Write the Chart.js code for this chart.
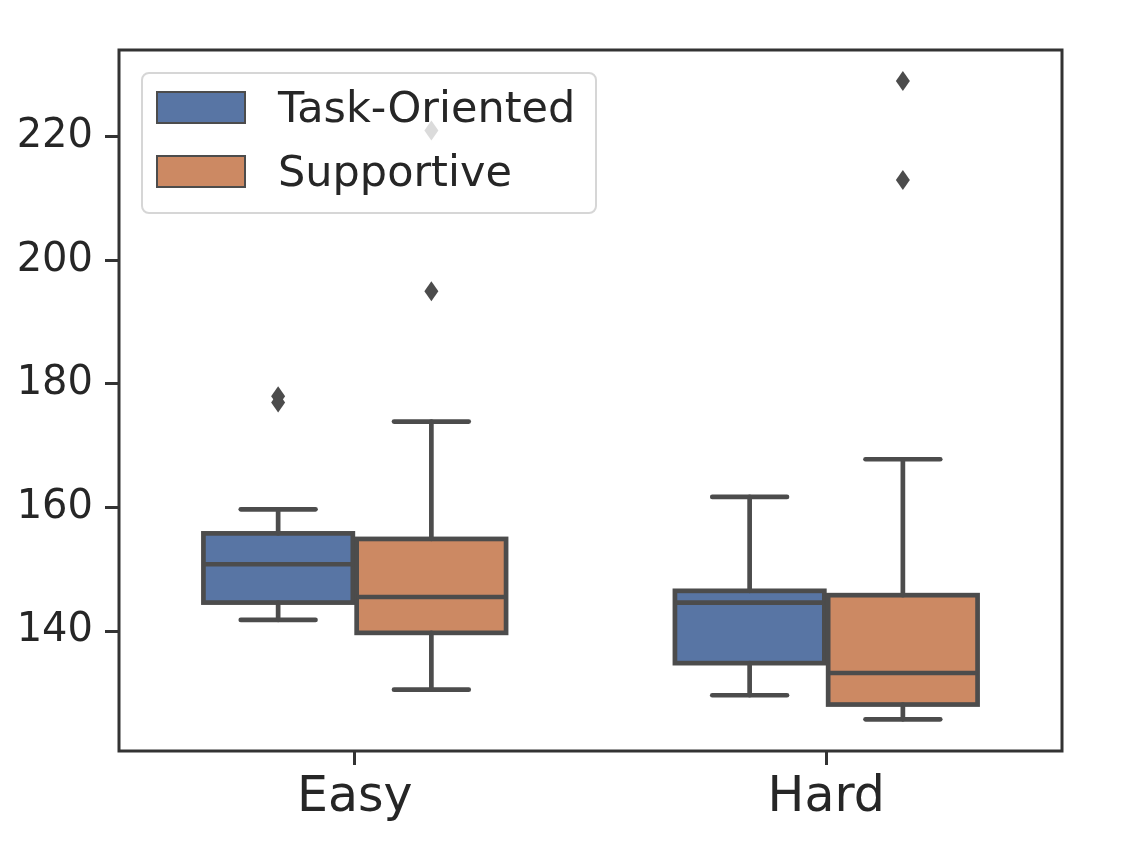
<!DOCTYPE html>
<html><head><meta charset="utf-8">
<script src="https://cdn.jsdelivr.net/npm/chart.js@4.4.1/dist/chart.umd.min.js"></script>
<style>html,body{margin:0;padding:0;background:#fff;overflow:hidden}#wrap{width:1136px;height:844px}</style>
</head><body><div id="wrap"><canvas id="c" width="1136" height="844"></canvas></div>
<script>
const categories = ['Easy', 'Hard'];
const seriesNames = ['Task-Oriented', 'Supportive'];
const yTicks = [140, 160, 180, 200, 220];

const taskLow = [141.8, 129.6];
const taskQ1 = [144.6, 134.8];
const taskMedian = [150.8, 144.6];
const taskQ3 = [155.8, 146.5];
const taskHigh = [159.7, 161.7];
const taskOutliers = [[178, 177], []];

const suppLow = [130.5, 125.7];
const suppQ1 = [139.7, 128.1];
const suppMedian = [145.5, 133.2];
const suppQ3 = [154.9, 145.8];
const suppHigh = [173.9, 167.8];
const suppOutliers = [[221, 195], [229, 213]];

const FILLS = ['#5875a4', '#cc8963'];
const LINE = '#4c4c4c';
const TEXT = '#262626';
const SPINE = '#333333';
const FONT = "'DejaVu Sans', sans-serif";

const stats = [
  {low: taskLow, q1: taskQ1, med: taskMedian, q3: taskQ3, high: taskHigh, out: taskOutliers},
  {low: suppLow, q1: suppQ1, med: suppMedian, q3: suppQ3, high: suppHigh, out: suppOutliers}
];

function seg(ctx, x1, y1, x2, y2) {
  ctx.beginPath(); ctx.moveTo(x1, y1); ctx.lineTo(x2, y2); ctx.stroke();
}

const boxPlugin = {
  id: 'boxes',
  afterDatasetsDraw(chart) {
    const ctx = chart.ctx, ys = chart.scales.y, ca = chart.chartArea;
    ctx.save();
    ctx.beginPath(); ctx.rect(ca.left, ca.top, ca.right - ca.left, ca.bottom - ca.top); ctx.clip();
    stats.forEach((s, di) => {
      const meta = chart.getDatasetMeta(di);
      meta.data.forEach((bar, i) => {
        const p = bar.getProps(['x', 'width'], true);
        const x = p.x, w = p.width, left = x - w / 2, right = x + w / 2;
        const py = v => ys.getPixelForValue(v);
        const pLow = py(s.low[i]), pQ1 = py(s.q1[i]), pMed = py(s.med[i]), pQ3 = py(s.q3[i]), pHigh = py(s.high[i]);
        ctx.strokeStyle = LINE; ctx.lineWidth = 4.7; ctx.lineCap = 'round';
        seg(ctx, x, pQ3, x, pHigh);
        seg(ctx, x, pQ1, x, pLow);
        seg(ctx, x - w / 4, pHigh, x + w / 4, pHigh);
        seg(ctx, x - w / 4, pLow, x + w / 4, pLow);
        ctx.lineCap = 'butt'; ctx.lineJoin = 'miter';
        ctx.strokeRect(left, pQ3, w, pQ1 - pQ3);
        seg(ctx, left, pMed, right, pMed);
        ctx.fillStyle = LINE;
        s.out[i].forEach(v => {
          const cy = py(v);
          ctx.beginPath();
          ctx.moveTo(x, cy - 10); ctx.lineTo(x + 7, cy); ctx.lineTo(x, cy + 10); ctx.lineTo(x - 7, cy);
          ctx.closePath(); ctx.fill();
        });
      });
    });
    ctx.restore();
  },
  afterDraw(chart) {
    const ctx = chart.ctx, ca = chart.chartArea;
    ctx.save();
    ctx.strokeStyle = SPINE; ctx.lineWidth = 3;
    ctx.strokeRect(ca.left, ca.top, ca.right - ca.left, ca.bottom - ca.top);
    // legend
    const lx = 142, ly = 73, lw = 454, lh = 140, r = 7;
    ctx.beginPath();
    ctx.roundRect(lx, ly, lw, lh, r);
    ctx.fillStyle = 'rgba(255,255,255,0.8)'; ctx.fill();
    ctx.strokeStyle = 'rgba(204,204,204,0.8)'; ctx.lineWidth = 2; ctx.stroke();
    seriesNames.forEach((name, k) => {
      const py = 92 + k * 64;
      ctx.fillStyle = FILLS[k];
      ctx.fillRect(157, py, 88, 31);
      ctx.strokeStyle = LINE; ctx.lineWidth = 2;
      ctx.strokeRect(157, py, 88, 31);
      ctx.fillStyle = TEXT;
      ctx.font = '43px ' + FONT;
      ctx.textBaseline = 'alphabetic'; ctx.textAlign = 'left';
      ctx.fillText(name, 278, py + 30);
    });
    ctx.restore();
  }
};

const gridStyle = {drawOnChartArea: false, drawTicks: true, tickLength: 14, lineWidth: 3, color: SPINE};

new Chart(document.getElementById('c'), {
  type: 'bar',
  data: {
    labels: categories,
    datasets: seriesNames.map((name, k) => ({
      label: name,
      data: categories.map((_, i) => [stats[k].q1[i], stats[k].q3[i]]),
      backgroundColor: FILLS[k],
      borderWidth: 0,
      categoryPercentage: 0.65,
      barPercentage: 0.975
    }))
  },
  options: {
    responsive: false,
    animation: false,
    devicePixelRatio: 1,
    layout: {padding: {left: 0, top: 50, right: 74, bottom: 0}},
    plugins: {legend: {display: false}, tooltip: {enabled: false}},
    scales: {
      x: {
        grid: Object.assign({offset: false}, gridStyle),
        border: {display: false},
        ticks: {font: {family: FONT, size: 49}, color: TEXT, padding: 4, maxRotation: 0},
        afterFit(s) { s.height = 93; }
      },
      y: {
        min: 120.58, max: 234.03,
        afterBuildTicks(s) { s.ticks = yTicks.map(v => ({value: v})); },
        grid: gridStyle,
        border: {display: false},
        ticks: {font: {family: FONT, size: 40}, color: TEXT, padding: 12},
        afterFit(s) { s.width = 119; }
      }
    }
  },
  plugins: [boxPlugin]
});
</script>
</body></html>
